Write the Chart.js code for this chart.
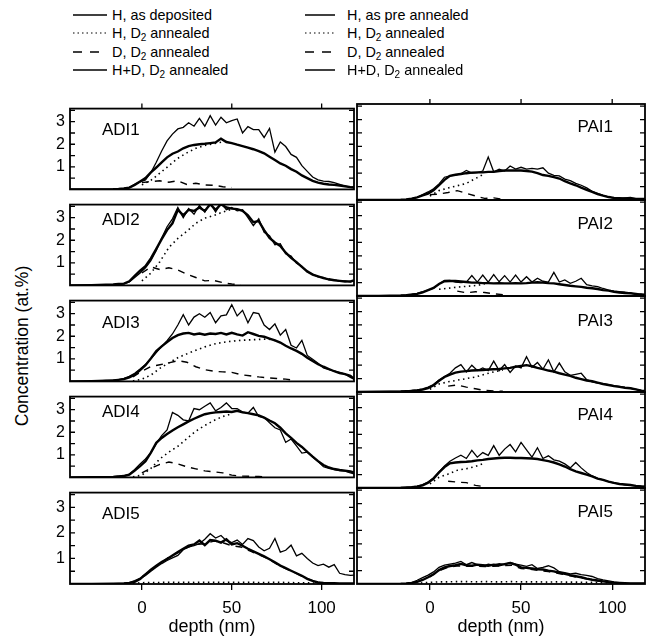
<!DOCTYPE html>
<html>
<head>
<meta charset="utf-8">
<title>H and D depth profiles</title>
<script src="https://cdn.jsdelivr.net/npm/chart.js@4.4.1/dist/chart.umd.min.js"></script>
<style>
  html, body { margin: 0; padding: 0; background: #fff; }
  body { position: relative; width: 648px; height: 640px; overflow: hidden;
         font-family: "Liberation Sans", Arial, Helvetica, sans-serif; color: #000; }
  canvas { position: absolute; }
  .lg-text { position: absolute; font-size: 14.4px; line-height: 17px; white-space: nowrap; }
  .lg-text sub { font-size: 10px; vertical-align: -3px; line-height: 0; }
  .lg-line { position: absolute; }
  #ytitle { position: absolute; left: 22px; top: 346px; font-size: 17.5px; white-space: nowrap;
            transform: translate(-50%, -50%) rotate(-90deg); }
</style>
</head>
<body>
<div id="ytitle">Concentration (at.%)</div>
<script>
// depth grid (nm) for the measured profiles, and a coarser one for the D2-annealed parts
const DEPTH = [-40, -28, -16, -13, -10, -7, -4, -1,
  2, 5, 8, 11, 14, 17, 20, 23,
  26, 29, 32, 35, 38, 41, 44, 47,
  50, 53, 56, 59, 62, 65, 68, 71,
  74, 77, 80, 83, 86, 89, 92, 95,
  98, 101, 104, 107, 110, 113, 116, 118];
const DEPTH_C = [-10, -5, 0, 5, 10, 15, 20, 25,
  30, 35, 40, 45, 50, 55, 60, 65,
  70, 75, 80, 85, 90, 95, 100, 105,
  110, 115];

// ---- ADI series (at.%) ----
const ADI1_H_DEP = [0, 0, 0.01, 0.02, 0.04, 0.08, 0.22, 0.33,
  0.42, 0.75, 1.2, 1.7, 2.15, 2.45, 2.68, 2.75,
  2.95, 2.8, 3.15, 2.8, 3.27, 2.85, 3.2, 2.95,
  3.05, 3.12, 2.5, 2.78, 2.65, 2.65, 2.3, 2.7,
  1.65, 2.1, 1.9, 1.55, 1.42, 1.05, 0.8, 0.55,
  0.42, 0.37, 0.35, 0.3, 0.22, 0.14, 0.1, 0.12];
const ADI1_HD = [0, 0, 0.01, 0.02, 0.04, 0.08, 0.2, 0.35,
  0.5, 0.75, 0.97, 1.2, 1.42, 1.58, 1.68, 1.82,
  1.92, 1.97, 2.0, 2.02, 2.05, 2.08, 2.25, 2.1,
  2.05, 1.98, 1.92, 1.85, 1.78, 1.7, 1.6, 1.45,
  1.3, 1.15, 1.05, 0.9, 0.78, 0.62, 0.5, 0.38,
  0.3, 0.25, 0.22, 0.2, 0.17, 0.14, 0.1, 0.08];
const ADI1_H_ANN = [null, null, 0.2, 0.4, 0.72, 1.05, 1.38, 1.62,
  1.82, 1.95, 2.03, 2.1];
const ADI1_D_ANN = [null, null, 0.3, 0.35, 0.38, 0.32, 0.38, 0.22,
  0.27, 0.2, 0.18, 0.12, 0.08];

const ADI2_H_DEP = [0, 0.01, 0.03, 0.05, 0.07, 0.15, 0.35, 0.55,
  0.78, 1.1, 1.55, 2.1, 2.6, 2.95, 3.45, 3.0,
  3.4, 3.15, 3.55, 3.25, 3.65, 3.25, 3.65, 3.35,
  3.45, 3.3, 3.35, 3.0, 2.65, 2.95, 2.35, 2.2,
  1.8, 1.85, 1.4, 1.3, 0.98, 0.85, 0.6, 0.5,
  0.38, 0.35, 0.25, 0.26, 0.18, 0.2, 0.15, 0.2];
const ADI2_HD = [0, 0.01, 0.04, 0.06, 0.08, 0.18, 0.42, 0.65,
  0.85, 1.2, 1.62, 2.05, 2.45, 2.75, 3.35, 3.1,
  3.35, 3.3, 3.45, 3.3, 3.6, 3.35, 3.6, 3.45,
  3.4, 3.38, 3.3, 3.1, 2.8, 2.85, 2.45, 2.1,
  1.9, 1.75, 1.45, 1.22, 1.03, 0.82, 0.62, 0.48,
  0.4, 0.32, 0.27, 0.23, 0.2, 0.17, 0.18, 0.22];
const ADI2_H_ANN = [null, null, 0.2, 0.55, 1.05, 1.68, 2.08, 2.4,
  2.75, 2.98, 3.1, 3.25, 3.38];
const ADI2_D_ANN = [null, null, 0.55, 0.82, 0.7, 0.78, 0.68, 0.5,
  0.35, 0.2, 0.22, 0.12, 0.06, 0.04];

const ADI3_H_DEP = [0, 0.01, 0.05, 0.08, 0.13, 0.22, 0.36, 0.55,
  0.75, 1.0, 1.28, 1.55, 1.8, 2.1, 2.5, 2.96,
  2.5, 2.85, 3.0, 2.84, 3.05, 2.6, 2.9, 2.95,
  3.4, 2.9, 3.15, 2.6, 3.05, 3.0, 2.5, 2.3,
  2.55, 2.05, 2.3, 1.6, 1.48, 1.82, 1.15, 0.98,
  0.8, 0.6, 0.52, 0.46, 0.4, 0.32, 0.18, 0.1];
const ADI3_HD = [0, 0.01, 0.04, 0.07, 0.1, 0.18, 0.3, 0.5,
  0.72, 1.02, 1.34, 1.55, 1.74, 1.92, 2.05, 2.12,
  2.15, 2.08, 2.12, 2.07, 2.12, 2.1, 2.15, 2.08,
  2.15, 2.08, 2.03, 2.18, 2.1, 2.02, 1.98, 1.9,
  1.82, 1.72, 1.58, 1.46, 1.35, 1.22, 1.05, 0.9,
  0.76, 0.65, 0.55, 0.45, 0.37, 0.32, 0.25, 0.12];
const ADI3_H_ANN = [null, 0.02, 0.1, 0.28, 0.58, 0.82, 1.05, 1.22,
  1.38, 1.53, 1.65, 1.73, 1.78, 1.82, 1.84, 1.86,
  1.88, 1.8];
const ADI3_D_ANN = [null, 0.2, 0.45, 0.66, 0.74, 0.82, 0.92, 0.85,
  0.65, 0.52, 0.45, 0.42, 0.4, 0.3, 0.25, 0.2,
  0.16, 0.13, 0.1, 0.04];

const ADI4_H_DEP = [0, 0.01, 0.03, 0.05, 0.08, 0.15, 0.35, 0.6,
  0.82, 1.1, 1.5, 1.85, 2.1, 2.88, 2.75, 2.55,
  2.5, 3.05, 3.0, 3.15, 3.3, 2.95, 3.1, 3.3,
  3.05, 3.05, 2.9, 2.85, 3.1, 2.7, 2.65, 2.42,
  2.2, 2.1, 1.55, 1.7, 1.4, 1.08, 1.12, 0.9,
  0.7, 0.47, 0.4, 0.35, 0.3, 0.28, 0.2, 0.16];
const ADI4_HD = [0, 0.01, 0.02, 0.04, 0.06, 0.12, 0.3, 0.5,
  0.72, 1.1, 1.53, 1.75, 1.92, 2.08, 2.22, 2.35,
  2.48, 2.6, 2.7, 2.8, 2.85, 2.88, 2.9, 2.92,
  2.9, 2.95, 2.88, 2.85, 2.8, 2.75, 2.65, 2.52,
  2.4, 2.2, 1.95, 1.75, 1.53, 1.35, 1.13, 0.92,
  0.72, 0.55, 0.44, 0.37, 0.33, 0.3, 0.26, 0.22];
const ADI4_H_ANN = [null, 0.03, 0.1, 0.4, 0.82, 1.12, 1.38, 1.72,
  2.05, 2.3, 2.52, 2.7, 2.82];
const ADI4_D_ANN = [null, null, 0.2, 0.4, 0.58, 0.68, 0.6, 0.47,
  0.38, 0.29, 0.25, 0.2, 0.1, 0.06, 0.05, 0.04,
  0.02];

const ADI5_H_DEP = [0, 0, 0.01, 0.02, 0.03, 0.05, 0.13, 0.22,
  0.33, 0.5, 0.66, 0.8, 0.92, 1.02, 1.12, 1.34,
  1.45, 1.5, 1.58, 1.75, 1.97, 1.8, 1.9, 1.7,
  1.62, 1.72, 1.55, 1.78, 1.7, 1.45, 1.3, 1.4,
  1.78, 1.25, 1.32, 1.52, 1.1, 1.2, 1.0, 0.82,
  0.72, 0.78, 0.66, 0.76, 0.42, 0.37, 0.34, 0.35];
const ADI5_HD = [0, 0, 0.01, 0.01, 0.02, 0.04, 0.08, 0.2,
  0.38, 0.56, 0.72, 0.86, 0.98, 1.12, 1.25, 1.38,
  1.5, 1.55, 1.7, 1.52, 1.72, 1.7, 1.62, 1.75,
  1.55, 1.6, 1.5, 1.38, 1.28, 1.18, 1.08, 0.97,
  0.85, 0.72, 0.62, 0.52, 0.42, 0.32, 0.2, 0.12,
  0.06, 0.04, 0.03, 0.03, 0.02, 0.02, 0.02, 0.02];
const ADI5_H_ANN = [null, 0.03, 0.05, 0.06, 0.06, 0.07, 0.06, 0.07,
  0.06, 0.07, 0.07, 0.06, 0.07, 0.06, 0.07, 0.06,
  0.06, 0.07, 0.06, 0.05, 0.05, 0.04, 0.03];
const ADI5_D_ANN = [null, null, 0.28, 0.55, 0.8, 1.05, 1.22, 1.42,
  1.55, 1.58, 1.68, 1.62, 1.5, 1.45, 1.3, 1.15,
  1.0, 0.78, 0.6, 0.45, 0.28, 0.12, 0.04];

// ---- PAI series (at.%) ----
const PAI1_H_DEP = [0, 0, 0.01, 0.02, 0.05, 0.1, 0.2, 0.3,
  0.42, 0.6, 0.85, 0.9, 0.93, 0.98, 1.1, 1.0,
  1.02, 1.08, 1.6, 1.05, 1.15, 1.08, 1.27, 1.15,
  1.22, 1.15, 1.18, 1.15, 1.2, 1.0, 0.92, 0.9,
  0.78, 0.72, 0.62, 0.55, 0.45, 0.32, 0.25, 0.17,
  0.12, 0.06, 0.04, 0.08, 0.1, 0.05, 0.05, 0.04];
const PAI1_HD = [0, 0, 0.01, 0.02, 0.05, 0.1, 0.17, 0.24,
  0.36, 0.55, 0.75, 0.9, 0.94, 0.97, 1.0, 1.02,
  1.03, 1.03, 1.05, 1.05, 1.08, 1.1, 1.1, 1.1,
  1.1, 1.08, 1.06, 1.0, 0.93, 0.9, 0.85, 0.8,
  0.7, 0.62, 0.55, 0.46, 0.38, 0.3, 0.22, 0.16,
  0.11, 0.08, 0.07, 0.06, 0.05, 0.04, 0.04, 0.04];
const PAI1_H_ANN = [null, null, 0.15, 0.35, 0.45, 0.53, 0.62, 0.8,
  0.98];
const PAI1_D_ANN = [null, null, 0.2, 0.22, 0.28, 0.35, 0.25, 0.15,
  0.06, 0.08, 0.03];

const PAI2_H_DEP = [0, 0, 0.02, 0.04, 0.07, 0.1, 0.15, 0.22,
  0.29, 0.45, 0.58, 0.58, 0.52, 0.5, 0.52, 0.76,
  0.52, 0.78, 0.52, 0.8, 0.53, 0.76, 0.52, 0.78,
  0.52, 0.72, 0.52, 0.66, 0.55, 0.52, 0.88, 0.52,
  0.6, 0.47, 0.55, 0.66, 0.42, 0.38, 0.35, 0.28,
  0.22, 0.18, 0.16, 0.14, 0.12, 0.05, 0.08, 0.06];
const PAI2_HD = [0, 0, 0.02, 0.03, 0.05, 0.08, 0.14, 0.22,
  0.3, 0.45, 0.55, 0.56, 0.56, 0.54, 0.52, 0.5,
  0.5, 0.48, 0.48, 0.47, 0.48, 0.47, 0.47, 0.48,
  0.47, 0.48, 0.5, 0.51, 0.5, 0.48, 0.47, 0.44,
  0.41, 0.38, 0.36, 0.34, 0.31, 0.29, 0.26, 0.22,
  0.2, 0.16, 0.13, 0.11, 0.1, 0.08, 0.05, 0.04];
const PAI2_H_ANN = [null, null, null, 0.25, 0.29, 0.33, 0.36, 0.39,
  0.44];
const PAI2_D_ANN = [null, null, null, null, null, 0.18, 0.12, 0.16,
  0.13, 0.08, 0.05];

const PAI3_H_DEP = [0, 0.01, 0.03, 0.04, 0.06, 0.08, 0.12, 0.18,
  0.28, 0.45, 0.58, 0.7, 0.9, 1.02, 0.75, 1.0,
  0.8, 0.9, 0.8, 1.15, 0.8, 1.02, 0.73, 0.97,
  0.9, 1.32, 0.92, 1.1, 0.85, 1.2, 0.75, 1.08,
  0.75, 0.62, 0.66, 0.7, 0.46, 0.38, 0.33, 0.3,
  0.27, 0.24, 0.21, 0.17, 0.14, 0.1, 0.06, 0.04];
const PAI3_HD = [0, 0.01, 0.02, 0.03, 0.04, 0.06, 0.09, 0.14,
  0.25, 0.42, 0.56, 0.65, 0.72, 0.76, 0.78, 0.8,
  0.81, 0.82, 0.84, 0.85, 0.86, 0.88, 0.9, 0.94,
  0.97, 1.0, 0.96, 0.9, 0.85, 0.8, 0.76, 0.7,
  0.65, 0.6, 0.53, 0.48, 0.43, 0.4, 0.35, 0.3,
  0.26, 0.22, 0.19, 0.16, 0.14, 0.1, 0.05, 0.04];
const PAI3_H_ANN = [null, null, 0.1, 0.3, 0.38, 0.44, 0.5, 0.56,
  0.66, 0.75, 0.82];
const PAI3_D_ANN = [null, null, null, null, 0.22, 0.26, 0.18, 0.12,
  0.06, 0.04, 0.03];

const PAI4_H_DEP = [0, 0, 0.01, 0.02, 0.04, 0.07, 0.13, 0.22,
  0.38, 0.6, 0.82, 1.0, 1.12, 1.22, 1.1, 1.4,
  1.15, 1.32, 1.22, 1.58, 1.22, 1.45, 1.62, 1.35,
  1.7, 1.42, 1.15, 1.5, 1.1, 1.2, 1.05, 1.0,
  0.9, 0.75, 0.95, 0.75, 0.58, 0.45, 0.36, 0.3,
  0.24, 0.18, 0.15, 0.12, 0.1, 0.08, 0.07, 0.06];
const PAI4_HD = [0, 0, 0.01, 0.02, 0.03, 0.05, 0.1, 0.2,
  0.35, 0.58, 0.78, 0.92, 0.95, 0.97, 0.98, 1.0,
  1.03, 1.05, 1.08, 1.1, 1.12, 1.13, 1.13, 1.12,
  1.12, 1.11, 1.1, 1.08, 1.04, 1.0, 0.95, 0.88,
  0.8, 0.7, 0.62, 0.56, 0.5, 0.43, 0.35, 0.3,
  0.24, 0.19, 0.15, 0.13, 0.11, 0.08, 0.06, 0.05];
const PAI4_H_ANN = [null, null, 0.15, 0.4, 0.52, 0.66, 0.72, 0.8,
  0.93];
const PAI4_D_ANN = [null, null, null, null, 0.25, 0.22, 0.2, 0.1,
  0.05];

const PAI5_H_DEP = [0, 0, 0.01, 0.02, 0.05, 0.14, 0.24, 0.33,
  0.45, 0.62, 0.7, 0.74, 0.78, 0.84, 0.72, 0.8,
  0.72, 0.66, 0.74, 0.7, 0.76, 0.72, 0.8, 0.74,
  0.7, 0.66, 0.72, 0.58, 0.62, 0.68, 0.6, 0.46,
  0.42, 0.38, 0.4, 0.35, 0.32, 0.28, 0.2, 0.15,
  0.12, 0.08, 0.05, 0.03, 0.02, 0.02, 0.02, 0.02];
const PAI5_HD = [0, 0, 0.01, 0.02, 0.04, 0.08, 0.15, 0.25,
  0.36, 0.52, 0.62, 0.67, 0.7, 0.75, 0.7, 0.68,
  0.72, 0.7, 0.68, 0.72, 0.7, 0.74, 0.78, 0.72,
  0.62, 0.6, 0.58, 0.55, 0.54, 0.5, 0.47, 0.42,
  0.38, 0.33, 0.29, 0.25, 0.2, 0.16, 0.13, 0.1,
  0.07, 0.05, 0.04, 0.03, 0.02, 0.02, 0.02, 0.02];
const PAI5_H_ANN = [null, 0.04, 0.06, 0.08, 0.08, 0.09, 0.09, 0.08,
  0.09, 0.08, 0.08, 0.09, 0.08, 0.08, 0.08, 0.07,
  0.08, 0.07, 0.07, 0.06, 0.06, 0.05, 0.04];
const PAI5_D_ANN = [null, null, 0.26, 0.5, 0.62, 0.68, 0.66, 0.66,
  0.65, 0.66, 0.68, 0.7, 0.58, 0.55, 0.5, 0.46,
  0.4, 0.33, 0.26, 0.2, 0.14, 0.08, 0.04];

const LEGEND_LEFT = ['H, as deposited', 'H, D<sub>2</sub> annealed', 'D, D<sub>2</sub> annealed', 'H+D, D<sub>2</sub> annealed'];
const LEGEND_RIGHT = ['H, as pre annealed', 'H, D<sub>2</sub> annealed', 'D, D<sub>2</sub> annealed', 'H+D, D<sub>2</sub> annealed'];

const PANELS = [
  [
    { name: 'ADI1', hDep: ADI1_H_DEP, hAnn: ADI1_H_ANN, dAnn: ADI1_D_ANN, hd: ADI1_HD },
    { name: 'ADI2', hDep: ADI2_H_DEP, hAnn: ADI2_H_ANN, dAnn: ADI2_D_ANN, hd: ADI2_HD },
    { name: 'ADI3', hDep: ADI3_H_DEP, hAnn: ADI3_H_ANN, dAnn: ADI3_D_ANN, hd: ADI3_HD },
    { name: 'ADI4', hDep: ADI4_H_DEP, hAnn: ADI4_H_ANN, dAnn: ADI4_D_ANN, hd: ADI4_HD },
    { name: 'ADI5', hDep: ADI5_H_DEP, hAnn: ADI5_H_ANN, dAnn: ADI5_D_ANN, hd: ADI5_HD }
  ],
  [
    { name: 'PAI1', hDep: PAI1_H_DEP, hAnn: PAI1_H_ANN, dAnn: PAI1_D_ANN, hd: PAI1_HD },
    { name: 'PAI2', hDep: PAI2_H_DEP, hAnn: PAI2_H_ANN, dAnn: PAI2_D_ANN, hd: PAI2_HD },
    { name: 'PAI3', hDep: PAI3_H_DEP, hAnn: PAI3_H_ANN, dAnn: PAI3_D_ANN, hd: PAI3_HD },
    { name: 'PAI4', hDep: PAI4_H_DEP, hAnn: PAI4_H_ANN, dAnn: PAI4_D_ANN, hd: PAI4_HD },
    { name: 'PAI5', hDep: PAI5_H_DEP, hAnn: PAI5_H_ANN, dAnn: PAI5_D_ANN, hd: PAI5_HD }
  ]
];

// layout
const ROW_TOP = [104, 200, 296, 392, 488];
const ROW_H = 96;
const LABEL_DY = [[22, 16, 23, 16, 22], [23, 24, 25, 23, 24]];
const FONT = '"Liberation Sans", Arial, Helvetica, sans-serif';

Chart.defaults.font.family = FONT;
Chart.defaults.color = '#000';

const STYLES = {
  hDep: { borderWidth: 1.3 },
  hAnn: { borderWidth: 1.6, borderDash: [1.5, 3.5] },
  dAnn: { borderWidth: 1.4, borderDash: [7, 6] },
  hd:   { borderWidth: 2.4 }
};

function line(xs, ys, style) {
  return Object.assign({
    data: ys.map((y, i) => ({ x: xs[i], y: y })),
    borderColor: '#000',
    pointRadius: 0,
    fill: false,
    tension: 0,
    spanGaps: false
  }, style);
}

// frame, inward ticks and panel name
const framePlugin = {
  id: 'frame',
  afterDatasetsDraw(chart, args, opts) {
    const { ctx, chartArea: a, scales } = chart;
    ctx.save();
    ctx.strokeStyle = '#000';
    ctx.lineWidth = 1.8;
    ctx.strokeRect(a.left, a.top, a.right - a.left, a.bottom - a.top);
    ctx.lineWidth = 1.3;
    ctx.beginPath();
    [0.5, 1, 1.5, 2, 2.5, 3, 3.5].forEach(v => {
      const y = scales.y.getPixelForValue(v);
      ctx.moveTo(a.left, y); ctx.lineTo(a.left + 5, y);
      ctx.moveTo(a.right, y); ctx.lineTo(a.right - 5, y);
    });
    if (opts.topTicks) {
      [0, 50, 100].forEach(v => {
        const x = scales.x.getPixelForValue(v);
        ctx.moveTo(x, a.top); ctx.lineTo(x, a.top - 5);
      });
    }
    ctx.stroke();
    ctx.fillStyle = '#000';
    ctx.font = '17px ' + FONT;
    ctx.textBaseline = 'middle';
    if (opts.alignRight) {
      ctx.textAlign = 'right';
      ctx.fillText(opts.label, a.right - 32, a.top + opts.dy);
    } else {
      ctx.textAlign = 'left';
      ctx.fillText(opts.label, a.left + 32, a.top + opts.dy);
    }
    ctx.restore();
  }
};

function makePanel(p, col, row) {
  const last = row === 4;
  const cv = document.createElement('canvas');
  const left = col === 0 ? 0 : 350;
  const width = col === 0 ? 356 : 298;
  const top = ROW_TOP[row] - 10;
  const height = last ? 640 - top : ROW_H + 14;
  cv.width = width; cv.height = height;
  cv.style.left = left + 'px'; cv.style.top = top + 'px';
  document.body.appendChild(cv);

  new Chart(cv, {
    type: 'line',
    data: {
      datasets: [
        line(DEPTH, p.hDep, STYLES.hDep),
        line(DEPTH_C, p.hAnn, STYLES.hAnn),
        line(DEPTH_C, p.dAnn, STYLES.dAnn),
        line(DEPTH, p.hd, STYLES.hd)
      ]
    },
    options: {
      responsive: false,
      animation: false,
      devicePixelRatio: 1,
      layout: { padding: { left: col === 0 ? 0 : 7, right: col === 0 ? 2 : 3, top: 10, bottom: last ? 0 : 4 } },
      plugins: {
        legend: { display: false },
        tooltip: { enabled: false },
        frame: { label: p.name, dy: LABEL_DY[col][row], alignRight: col === 1, topTicks: row === 0 }
      },
      scales: {
        x: {
          type: 'linear', min: -40, max: 118,
          display: last,
          border: { display: false },
          grid: { display: true, drawOnChartArea: false, drawTicks: true, tickLength: 6, color: '#000', lineWidth: 1.3 },
          ticks: { stepSize: 50, includeBounds: false, padding: 8, font: { size: 17 }, maxRotation: 0 },
          title: { display: true, text: 'depth (nm)', font: { size: 18 }, padding: { top: 0, bottom: 2 } },
          afterFit: s => { if (last) s.height = 56; }
        },
        y: {
          type: 'linear', min: 0, max: 3.58,
          display: col === 0,
          border: { display: false },
          grid: { display: false, drawTicks: false },
          ticks: {
            stepSize: 1, includeBounds: false, padding: 5, font: { size: 16 },
            callback: v => (v >= 1 && v <= 3) ? String(v) : ''
          },
          afterFit: s => { if (col === 0) s.width = 70; }
        }
      }
    },
    plugins: [framePlugin]
  });
}

PANELS.forEach((colPanels, col) => colPanels.forEach((p, row) => makePanel(p, col, row)));

// legend
const LEGEND_ROW_Y = [15, 33.3, 51.7, 70];
const SAMPLE_DASH = ['', '1.5 3', '9 8', ''];
function addLegend(texts, lineX, lineW, textX) {
  texts.forEach((t, i) => {
    const y = LEGEND_ROW_Y[i];
    const svg = document.createElementNS('http://www.w3.org/2000/svg', 'svg');
    svg.setAttribute('width', lineW); svg.setAttribute('height', 4);
    svg.setAttribute('class', 'lg-line');
    svg.style.left = lineX + 'px'; svg.style.top = (y - 2) + 'px';
    const ln = document.createElementNS('http://www.w3.org/2000/svg', 'line');
    ln.setAttribute('x1', 0); ln.setAttribute('y1', 2);
    ln.setAttribute('x2', lineW); ln.setAttribute('y2', 2);
    ln.setAttribute('stroke', '#000');
    ln.setAttribute('stroke-width', i === 1 ? 1.2 : 1.5);
    if (SAMPLE_DASH[i]) ln.setAttribute('stroke-dasharray', SAMPLE_DASH[i]);
    svg.appendChild(ln);
    document.body.appendChild(svg);
    const d = document.createElement('div');
    d.className = 'lg-text';
    d.innerHTML = t;
    d.style.left = textX + 'px';
    d.style.top = (y - 8) + 'px';
    document.body.appendChild(d);
  });
}
addLegend(LEGEND_LEFT, 73, 34, 112);
addLegend(LEGEND_RIGHT, 305, 30, 347);
</script>
</body>
</html>
